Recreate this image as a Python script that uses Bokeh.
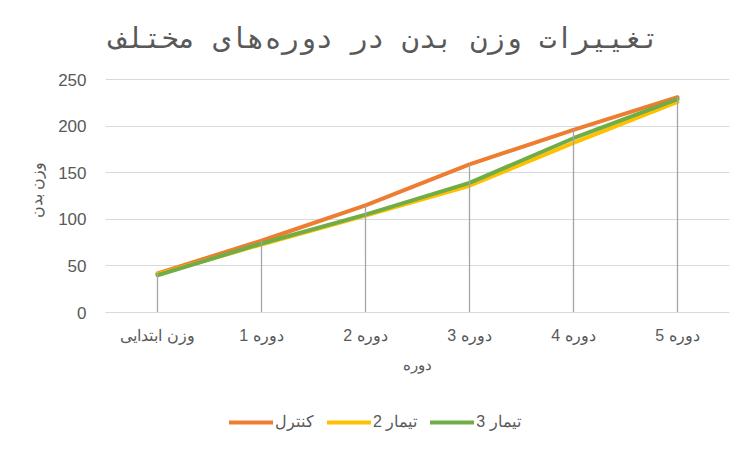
from bokeh.plotting import figure
from bokeh.models import FactorRange, Range1d, Legend, LegendItem, Title, FixedTicker, Label
from bokeh.embed import file_html
from bokeh.resources import INLINE

categories = ["وزن ابتدایی", "دوره 1", "دوره 2", "دوره 3", "دوره 4", "دوره 5"]
control = [42, 77, 115, 159, 196, 231]
treat2 = [41, 73, 104, 136, 182, 226]
treat3 = [40, 74, 105, 139, 187, 229]
series_names = ["کنترل", "تیمار 2", "تیمار 3"]
y_ticks = [0, 50, 100, 150, 200, 250]
title_text = "تغییرات وزن بدن در دوره‌های مختلف"
x_label = "دوره"
y_label = "وزن بدن"

TXT = "#595959"

# value area is 233 px tall (0..250); the frame is extended above it (title)
# and below it (x-axis labels, legend); the x axis is pinned at y = 0
PX_PER_UNIT = 233 / 250
y_lo = -124 / PX_PER_UNIT
y_hi = 250 + 79 / PX_PER_UNIT

p = figure(width=737, height=436, output_backend="svg", toolbar_location=None,
           x_range=FactorRange(*categories, range_padding=0),
           y_range=Range1d(y_lo, y_hi),
           min_border_left=105, min_border_right=8, min_border_top=0, min_border_bottom=0)
p.title.text = ""
p.title.visible = False
p.outline_line_color = None
p.background_fill_color = "white"
p.border_fill_color = "white"

# chart title (inside the extended frame, above the value area)
p.add_layout(Label(x=(384 - 105) / 104, y=250 + 41 / PX_PER_UNIT, text=title_text,
                   text_font="DejaVu Sans Mono", text_font_size="28.5px",
                   text_color=TXT, text_align="center", text_baseline="middle"))

# y axis title as a side title so it can sit over the value area
ytitle = Title(text=y_label, align="right", offset=161, standoff=22, vertical_align="bottom",
               text_font="Liberation Sans", text_font_size="16px",
               text_font_style="normal", text_color=TXT)
p.add_layout(ytitle, "left")

# grid
p.xgrid.grid_line_color = None
p.ygrid.grid_line_color = "#d9d9d9"
p.ygrid.grid_line_width = 1
p.yaxis.ticker = FixedTicker(ticks=y_ticks)

# axes
p.yaxis.axis_line_color = None
p.yaxis.major_tick_line_color = None
p.yaxis.minor_tick_line_color = None
p.yaxis.major_label_standoff = 13
p.yaxis.major_label_text_color = TXT
p.yaxis.major_label_text_font = "Liberation Sans"
p.yaxis.major_label_text_font_size = "17px"

p.xaxis.fixed_location = 0
p.xaxis.axis_line_color = "#d9d9d9"
p.xaxis.axis_line_width = 1
p.xaxis.major_tick_line_color = None
p.xaxis.minor_tick_line_color = None
p.xaxis.major_label_standoff = 8
p.xaxis.major_label_text_color = TXT
p.xaxis.major_label_text_font = "Liberation Sans"
p.xaxis.major_label_text_font_size = "16px"
p.xaxis.axis_label = x_label
p.xaxis.axis_label_text_color = TXT
p.xaxis.axis_label_text_font = "Liberation Sans"
p.xaxis.axis_label_text_font_style = "normal"
p.xaxis.axis_label_text_font_size = "15px"
p.xaxis.axis_label_standoff = 9

colors = ["#ED7D31", "#FFC000", "#70AD47"]
renderers = []
for vals, c in zip([control, treat2, treat3], colors):
    r = p.line(categories, vals, line_color=c, line_width=4, line_cap="round", line_join="round")
    renderers.append(r)

# drop lines from highest series value to 0
tops = [max(a, b, c) for a, b, c in zip(control, treat2, treat3)]
p.segment(x0=categories, y0=[0] * len(categories), x1=categories, y1=tops,
          line_color="#a5a5a5", line_width=1.3)

legend = Legend(items=[LegendItem(label=n, renderers=[r]) for n, r in zip(series_names, renderers)],
                orientation="horizontal", location=(124, 5),
                border_line_color=None, background_fill_alpha=0,
                glyph_width=44, glyph_height=16, label_standoff=2, spacing=13,
                padding=0, margin=0,
                label_text_font="Liberation Sans", label_text_font_size="16px",
                label_text_color=TXT)
p.add_layout(legend)

open("out.html", "w").write(file_html(p, INLINE))
